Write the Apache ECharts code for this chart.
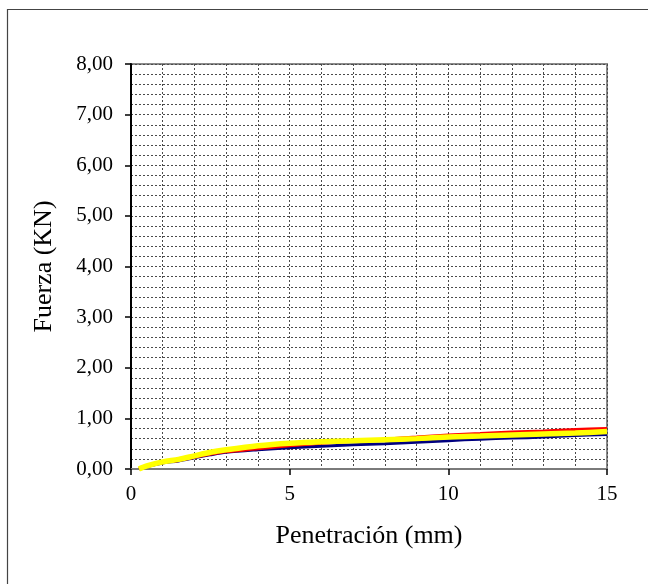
<!DOCTYPE html>
<html>
<head>
<meta charset="utf-8">
<style>
  html, body { margin: 0; padding: 0; background: #ffffff; }
  #chart { width: 648px; height: 584px; }
</style>
<script src="https://cdn.jsdelivr.net/npm/echarts@6/dist/echarts.min.js"></script>
</head>
<body>
<div id="chart"></div>
<script>
// Penetration readings (mm)
var penetracion = [0.25, 0.5, 1, 1.5, 2, 2.5, 3, 4, 5, 6, 7, 8, 9, 10, 11, 12, 13, 14, 15];
// Force readings (kN) for the three specimens
var fuerzaAzul     = [0, 0.05, 0.12, 0.16, 0.22, 0.28, 0.33, 0.38, 0.42, 0.45, 0.48, 0.50, 0.53, 0.56, 0.59, 0.61, 0.63, 0.66, 0.68];
var fuerzaRoja     = [0, 0.05, 0.13, 0.17, 0.23, 0.29, 0.34, 0.40, 0.46, 0.51, 0.55, 0.59, 0.63, 0.67, 0.70, 0.73, 0.75, 0.78, 0.80];
var fuerzaAmarilla = [0, 0.06, 0.14, 0.19, 0.26, 0.33, 0.38, 0.46, 0.51, 0.54, 0.56, 0.58, 0.60, 0.63, 0.65, 0.67, 0.69, 0.71, 0.74];
// Axis tick labels
var xTicks = ['0', '5', '10', '15'];
var yTicks = ['0,00', '1,00', '2,00', '3,00', '4,00', '5,00', '6,00', '7,00', '8,00'];

function pares(xs, ys) {
  return xs.map(function (x, i) { return [x, ys[i]]; });
}

var serif = '"Liberation Serif", "DejaVu Serif", serif';
var gridDots = { color: '#4a4a4a', width: 1, type: [2, 2] };

var chart = echarts.init(document.getElementById('chart'), null, { renderer: 'canvas' });
chart.setOption({
  backgroundColor: '#ffffff',
  animation: false,
  graphic: [{
    type: 'rect',
    shape: { x: 7.5, y: 9.5, width: 800, height: 800 },
    style: { fill: 'none', stroke: '#444', lineWidth: 1.2 },
    silent: true
  }],
  grid: {
    left: 131, right: 41, top: 64, bottom: 115,
    show: true, borderColor: '#8a8a8a', borderWidth: 2, backgroundColor: 'transparent'
  },
  xAxis: {
    type: 'value', min: 0, max: 15, interval: 5,
    name: 'Penetración (mm)', nameLocation: 'middle', nameGap: 54,
    nameTextStyle: { fontFamily: serif, fontSize: 26, color: '#000' },
    axisLine: { show: true, lineStyle: { color: '#7a7a7a', width: 2 } },
    axisTick: { show: true, length: 6, lineStyle: { color: '#000', width: 1.5 } },
    axisLabel: {
      fontFamily: serif, fontSize: 21, color: '#000', margin: 15,
      formatter: function (v) { return xTicks[Math.round(v / 5)]; }
    },
    splitLine: { show: true, lineStyle: gridDots },
    minorTick: { show: false, splitNumber: 5 },
    minorSplitLine: { show: true, lineStyle: gridDots }
  },
  yAxis: {
    type: 'value', min: 0, max: 8, interval: 1,
    name: 'Fuerza (KN)', nameLocation: 'middle', nameGap: 74, nameRotate: 90,
    nameTextStyle: { fontFamily: serif, fontSize: 26, color: '#000' },
    axisLine: { show: true, lineStyle: { color: '#000', width: 2 } },
    axisTick: { show: true, length: 6, lineStyle: { color: '#000', width: 1.5 } },
    axisLabel: {
      fontFamily: serif, fontSize: 21, color: '#000', margin: 18,
      formatter: function (v) { return yTicks[Math.round(v)]; }
    },
    splitLine: { show: true, lineStyle: gridDots },
    minorTick: { show: false, splitNumber: 5 },
    minorSplitLine: { show: true, lineStyle: gridDots }
  },
  series: [
    {
      type: 'line', data: pares(penetracion, fuerzaAzul), smooth: 0.3,
      showSymbol: false, z: 2,
      lineStyle: { color: '#000080', width: 3 }
    },
    {
      type: 'line', data: pares(penetracion, fuerzaRoja), smooth: 0.3,
      showSymbol: false, z: 3,
      lineStyle: { color: '#ff0000', width: 3 }
    },
    {
      type: 'line', data: pares(penetracion, fuerzaAmarilla), smooth: 0.3,
      showSymbol: false, z: 4,
      lineStyle: { color: '#ffff00', width: 5.5 }
    }
  ]
});
</script>
</body>
</html>
